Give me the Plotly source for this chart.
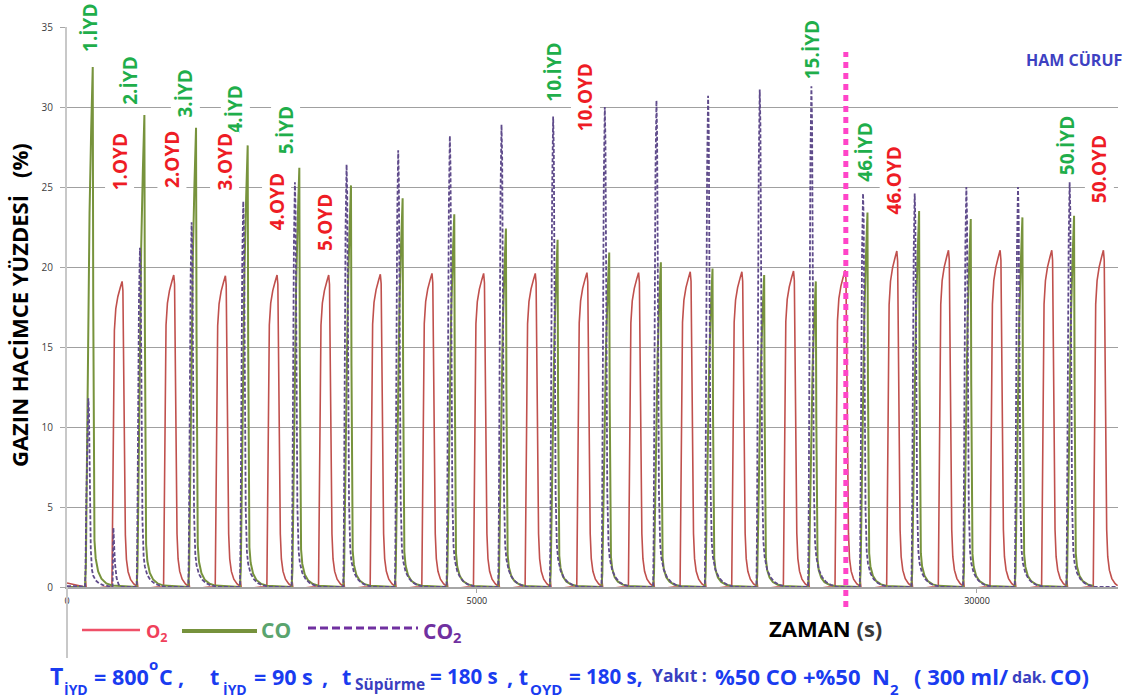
import plotly.graph_objects as go

# ---------------- data ----------------
CYCLE_PERIOD = 630          # s : 90 s IYD + 180 s sweep + 180 s OYD + 180 s sweep
FIRST_START = 220           # s : start of the 1st IYD
LAST_CYCLE_BEFORE_BREAK = 15
REMOVED_CYCLES = 30         # cycles 16..45 are cut out of the time axis

CYCLES = [1, 2, 3, 4, 5, 6, 7, 8, 9, 10, 11, 12, 13, 14, 15, 46, 47, 48, 49, 50]
CO_PEAK = [32.5, 29.5, 28.7, 27.6, 26.2, 25.1, 24.3, 23.3, 22.4, 21.7,
           20.9, 20.3, 19.9, 19.5, 19.1, 23.4, 23.5, 23.0, 23.1, 23.2]
CO2_PEAK = [11.8, 21.2, 22.8, 24.1, 25.3, 26.4, 27.3, 28.2, 28.9, 29.4,
            30.0, 30.4, 30.7, 31.1, 31.3, 24.6, 24.6, 25.0, 25.0, 25.3]
O2_PEAK = [19.1, 19.5, 19.45, 19.5, 19.5, 19.55, 19.6, 19.6, 19.6, 19.65,
           19.65, 19.7, 19.7, 19.75, 19.8, 21.0, 21.05, 21.05, 21.05, 21.05]
CO2_BURST_AT_OYD = [3.7, 0, 0, 0, 0, 0, 0, 0, 0, 0,
                    0, 0, 0, 0, 0, 0, 0, 0, 0, 0]

# pulse shapes: seconds after IYD start, fraction of peak
CO_T = [0, 10, 30, 55, 75, 88, 94, 100, 106, 115, 130, 160, 200, 260, 330]
CO_F = [0.0, 0.04, 0.4, 0.72, 0.88, 0.96, 1.0, 0.55, 0.2, 0.09, 0.055, 0.03, 0.016, 0.007, 0.003]
CO2_T = [0, 6, 15, 28, 40, 48, 58, 70, 85, 100, 130, 170, 220, 280, 330]
CO2_F = [0.0, 0.1, 0.45, 0.85, 1.0, 0.93, 0.6, 0.2, 0.09, 0.06, 0.035, 0.02, 0.01, 0.004, 0.002]
BURST_T = [336, 342, 346, 352, 365, 385, 410, 440, 620]
BURST_F = [0.0, 0.55, 1.0, 0.8, 0.4, 0.15, 0.04, 0.0, 0.0]
O2_T = [0, 6, 14, 30, 80, 160, 250, 328, 336, 346, 358, 375, 400, 430, 452,
        462, 470, 480, 492, 505, 525, 555, 595, 625]
O2_F = [0.0, 0.02, 0.0, -0.006, -0.006, -0.003, 0.0, 0.0, 0.3, 0.68, 0.84, 0.91,
        0.95, 0.98, 1.0, 0.97, 0.75, 0.4, 0.17, 0.09, 0.05, 0.025, 0.01, 0.004]
LEAD_T = [0, 150]
O2_LEAD = [0.25, 0.05]
CO_LEAD = [0.0, 0.0]
CO2_LEAD = [0.05, 0.05]

# axis
X_RANGE = [0, 12820]
X_TICKS_REAL = [0, 5000, 30000]
Y_RANGE = [0, 35]

# annotations: text, colour, time (s, display axis), value (%)
LABELS = [
    ("1.İYD", "g", 280, 35.0), ("2.İYD", "g", 768, 31.7), ("3.İYD", "g", 1439, 30.9),
    ("4.İYD", "g", 2049, 29.9), ("5.İYD", "g", 2671, 28.6),
    ("1.OYD", "r", 646, 26.6), ("2.OYD", "r", 1280, 26.75), ("3.OYD", "r", 1927, 26.6),
    ("4.OYD", "r", 2561, 24.1), ("5.OYD", "r", 3146, 22.8),
    ("10.İYD", "g", 5939, 32.2), ("10.OYD", "r", 6329, 30.6), ("15.İYD", "g", 9098, 33.6),
    ("46.İYD", "g", 9732, 27.2), ("46.OYD", "r", 10085, 25.4),
    ("50.İYD", "g", 12207, 27.6), ("50.OYD", "r", 12598, 26.1),
]
BREAK_TIME = 9500

# ---------------- build curves ----------------
def cycle_start(n):
    s = FIRST_START + (n - 1) * CYCLE_PERIOD
    if n > LAST_CYCLE_BEFORE_BREAK:
        s -= REMOVED_CYCLES * CYCLE_PERIOD
    return s


def build(peaks, pt, pf, lead, burst=None):
    xs, ys = list(LEAD_T), list(lead)
    for i, (n, p) in enumerate(zip(CYCLES, peaks)):
        s = cycle_start(n)
        for t, f in zip(pt, pf):
            xs.append(s + t)
            ys.append(p * f)
        if burst is not None:
            for t, f in zip(BURST_T, BURST_F):
                xs.append(s + t)
                ys.append(burst[i] * f)
    return xs, ys


o2x, o2y = build(O2_PEAK, O2_T, O2_F, O2_LEAD)
cox, coy = build(CO_PEAK, CO_T, CO_F, CO_LEAD)
co2x, co2y = build(CO2_PEAK, CO2_T, CO2_F, CO2_LEAD, burst=CO2_BURST_AT_OYD)

fig = go.Figure()
fig.add_trace(go.Scatter(x=o2x, y=o2y, mode="lines", name="O2",
                         line=dict(color="#c0504d", width=1.6)))
fig.add_trace(go.Scatter(x=cox, y=coy, mode="lines", name="CO",
                         line=dict(color="#77933c", width=2)))
fig.add_trace(go.Scatter(x=co2x, y=co2y, mode="lines", name="CO2",
                         line=dict(color="#5f4b8b", width=1.8, dash="4px,2px")))

# ---------------- layout geometry ----------------
W, H = 1140, 700
ML, MR, MT, MB = 67, 22, 27, 113
PW, PH = W - ML - MR, H - MT - MB


def px(xpix):
    return (xpix - ML) / PW


def py(ypix):
    return (H - MB - ypix) / PH


removed = REMOVED_CYCLES * CYCLE_PERIOD
tickvals = [v if v < 10000 else v - removed for v in X_TICKS_REAL]

fig.update_layout(
    width=W, height=H, autosize=False,
    margin=dict(l=ML, r=MR, t=MT, b=MB),
    paper_bgcolor="white", plot_bgcolor="white",
    showlegend=False,
    font=dict(family="Open Sans, Arial", color="#262626"),
    xaxis=dict(range=X_RANGE, tickvals=tickvals, ticktext=[str(v) for v in X_TICKS_REAL],
               showgrid=False, zeroline=False, showline=True, linecolor="#a6a6a6",
               linewidth=1.5, ticks="outside", ticklen=4, tickcolor="#a6a6a6",
               tickfont=dict(size=9, color="#262626", family="Open Sans")),
    yaxis=dict(range=Y_RANGE, dtick=5, showgrid=True, gridcolor="#a0a0a0", gridwidth=1,
               zeroline=False, showline=True, linecolor="#c8c8c8", linewidth=2,
               ticks="outside", ticklen=5, tickcolor="#a6a6a6", ticklabelstandoff=5,
               tickfont=dict(size=10, color="#404040", family="Open Sans")),
)

shapes = []
# y-axis line extension below the plot
shapes.append(dict(type="line", xref="paper", yref="paper", x0=0, x1=0,
                   y0=py(658), y1=0, line=dict(color="#c8c8c8", width=2)))
# break line (pink dotted)
bx = (BREAK_TIME - X_RANGE[0]) / (X_RANGE[1] - X_RANGE[0])
shapes.append(dict(type="line", xref="paper", yref="paper", x0=bx, x1=bx,
                   y0=py(607), y1=py(52), line=dict(color="#ff44c8", width=5, dash="6px,5px")))
# custom legend lines
shapes.append(dict(type="line", xref="paper", yref="paper", x0=px(82), x1=px(140),
                   y0=py(630), y1=py(630), line=dict(color="#ef5068", width=2.5)))
shapes.append(dict(type="line", xref="paper", yref="paper", x0=px(182), x1=px(257),
                   y0=py(631), y1=py(631), line=dict(color="#76923c", width=4)))
shapes.append(dict(type="line", xref="paper", yref="paper", x0=px(308), x1=px(418),
                   y0=py(628), y1=py(628), line=dict(color="#7030a0", width=3, dash="8px,4px")))
fig.update_layout(shapes=shapes)

ann = []
GREEN, RED = "#1fae4b", "#ee1c25"
for text, c, t, v in LABELS:
    ann.append(dict(x=t, y=v, xref="x", yref="y", text="<b>%s</b>" % text, showarrow=False,
                    textangle=-90, xanchor="center", yanchor="middle",
                    bgcolor="white", borderpad=1,
                    font=dict(family="Open Sans", size=19, color=GREEN if c == "g" else RED)))

ann.append(dict(x=px(1074), y=py(60), xref="paper", yref="paper", showarrow=False,
                text="<b>HAM CÜRUF</b>", xanchor="center", yanchor="middle",
                font=dict(family="Open Sans", size=16, color="#3d41c2")))

# axis titles
ann.append(dict(x=px(19), y=py(305), xref="paper", yref="paper", showarrow=False,
                textangle=-90, xanchor="center", yanchor="middle",
                text="<b>GAZIN HACİMCE YÜZDESİ\u00a0\u00a0\u00a0(%)</b>",
                font=dict(family="Open Sans", size=22, color="#000000")))
ann.append(dict(x=px(767), y=py(628), xref="paper", yref="paper", showarrow=False,
                xanchor="left", yanchor="middle",
                text="<b>ZAMAN <span style='color:#3a3a3a'>(s)</span></b>",
                font=dict(family="Open Sans", size=22, color="#000000")))

# legend texts
ann.append(dict(x=px(144), y=py(632), xref="paper", yref="paper", showarrow=False,
                xanchor="left", yanchor="middle", text="<b>O<sub>2</sub></b>",
                font=dict(family="Open Sans", size=18, color="#f0405a")))
ann.append(dict(x=px(259), y=py(630), xref="paper", yref="paper", showarrow=False,
                xanchor="left", yanchor="middle", text="<b>CO</b>",
                font=dict(family="Open Sans", size=21, color="#5aa46e")))
ann.append(dict(x=px(421), y=py(632), xref="paper", yref="paper", showarrow=False,
                xanchor="left", yanchor="middle", text="<b>CO<sub>2</sub></b>",
                font=dict(family="Open Sans", size=21, color="#7030a0")))

# bottom line of experimental conditions
BLUE, INDIGO = "#1a3cf0", "#3a3fc0"
BF = "Open Sans"
S = 21.5
BOTTOM = [
    (48, 676, "T", 23, BLUE), (62, 689, "İYD", 14, BLUE),
    (92, 676, "= 800", S, BLUE), (147, 664, "o", 15, BLUE), (157, 676, "C", S, BLUE),
    (176, 676, ",", S, BLUE),
    (208, 676, "t", S, BLUE), (221, 689, "İYD", 14, BLUE),
    (252, 676, "= 90 s", S, BLUE), (320, 676, ",", S, BLUE),
    (340, 676, "t", S, BLUE), (353, 684, "Süpürme", 15.5, INDIGO),
    (428, 676, "= 180 s", 20.5, BLUE), (505, 676, ", t", S, BLUE), (528, 689, "OYD", 15, BLUE),
    (567, 676, "= 180 s,", 20.5, BLUE), (650, 675, "Yakıt :", 17.5, INDIGO),
    (713, 676, "%50 CO +%50", 22, BLUE), (870, 676, "N", 22, BLUE), (888, 689, "2", 15, BLUE),
    (912, 676, "( 300 ml/", 22, BLUE), (1010, 677, "dak.", 16, INDIGO), (1048, 676, "CO)", 22, BLUE),
]
for xl, yc, t, s, c in BOTTOM:
    ann.append(dict(x=px(xl), y=py(yc), xref="paper", yref="paper", showarrow=False,
                    xanchor="left", yanchor="middle", text="<b>%s</b>" % t.replace(" ", "\u00a0"),
                    font=dict(family=BF, size=s, color=c)))

fig.update_layout(annotations=ann)
fig.write_html("out.html")
